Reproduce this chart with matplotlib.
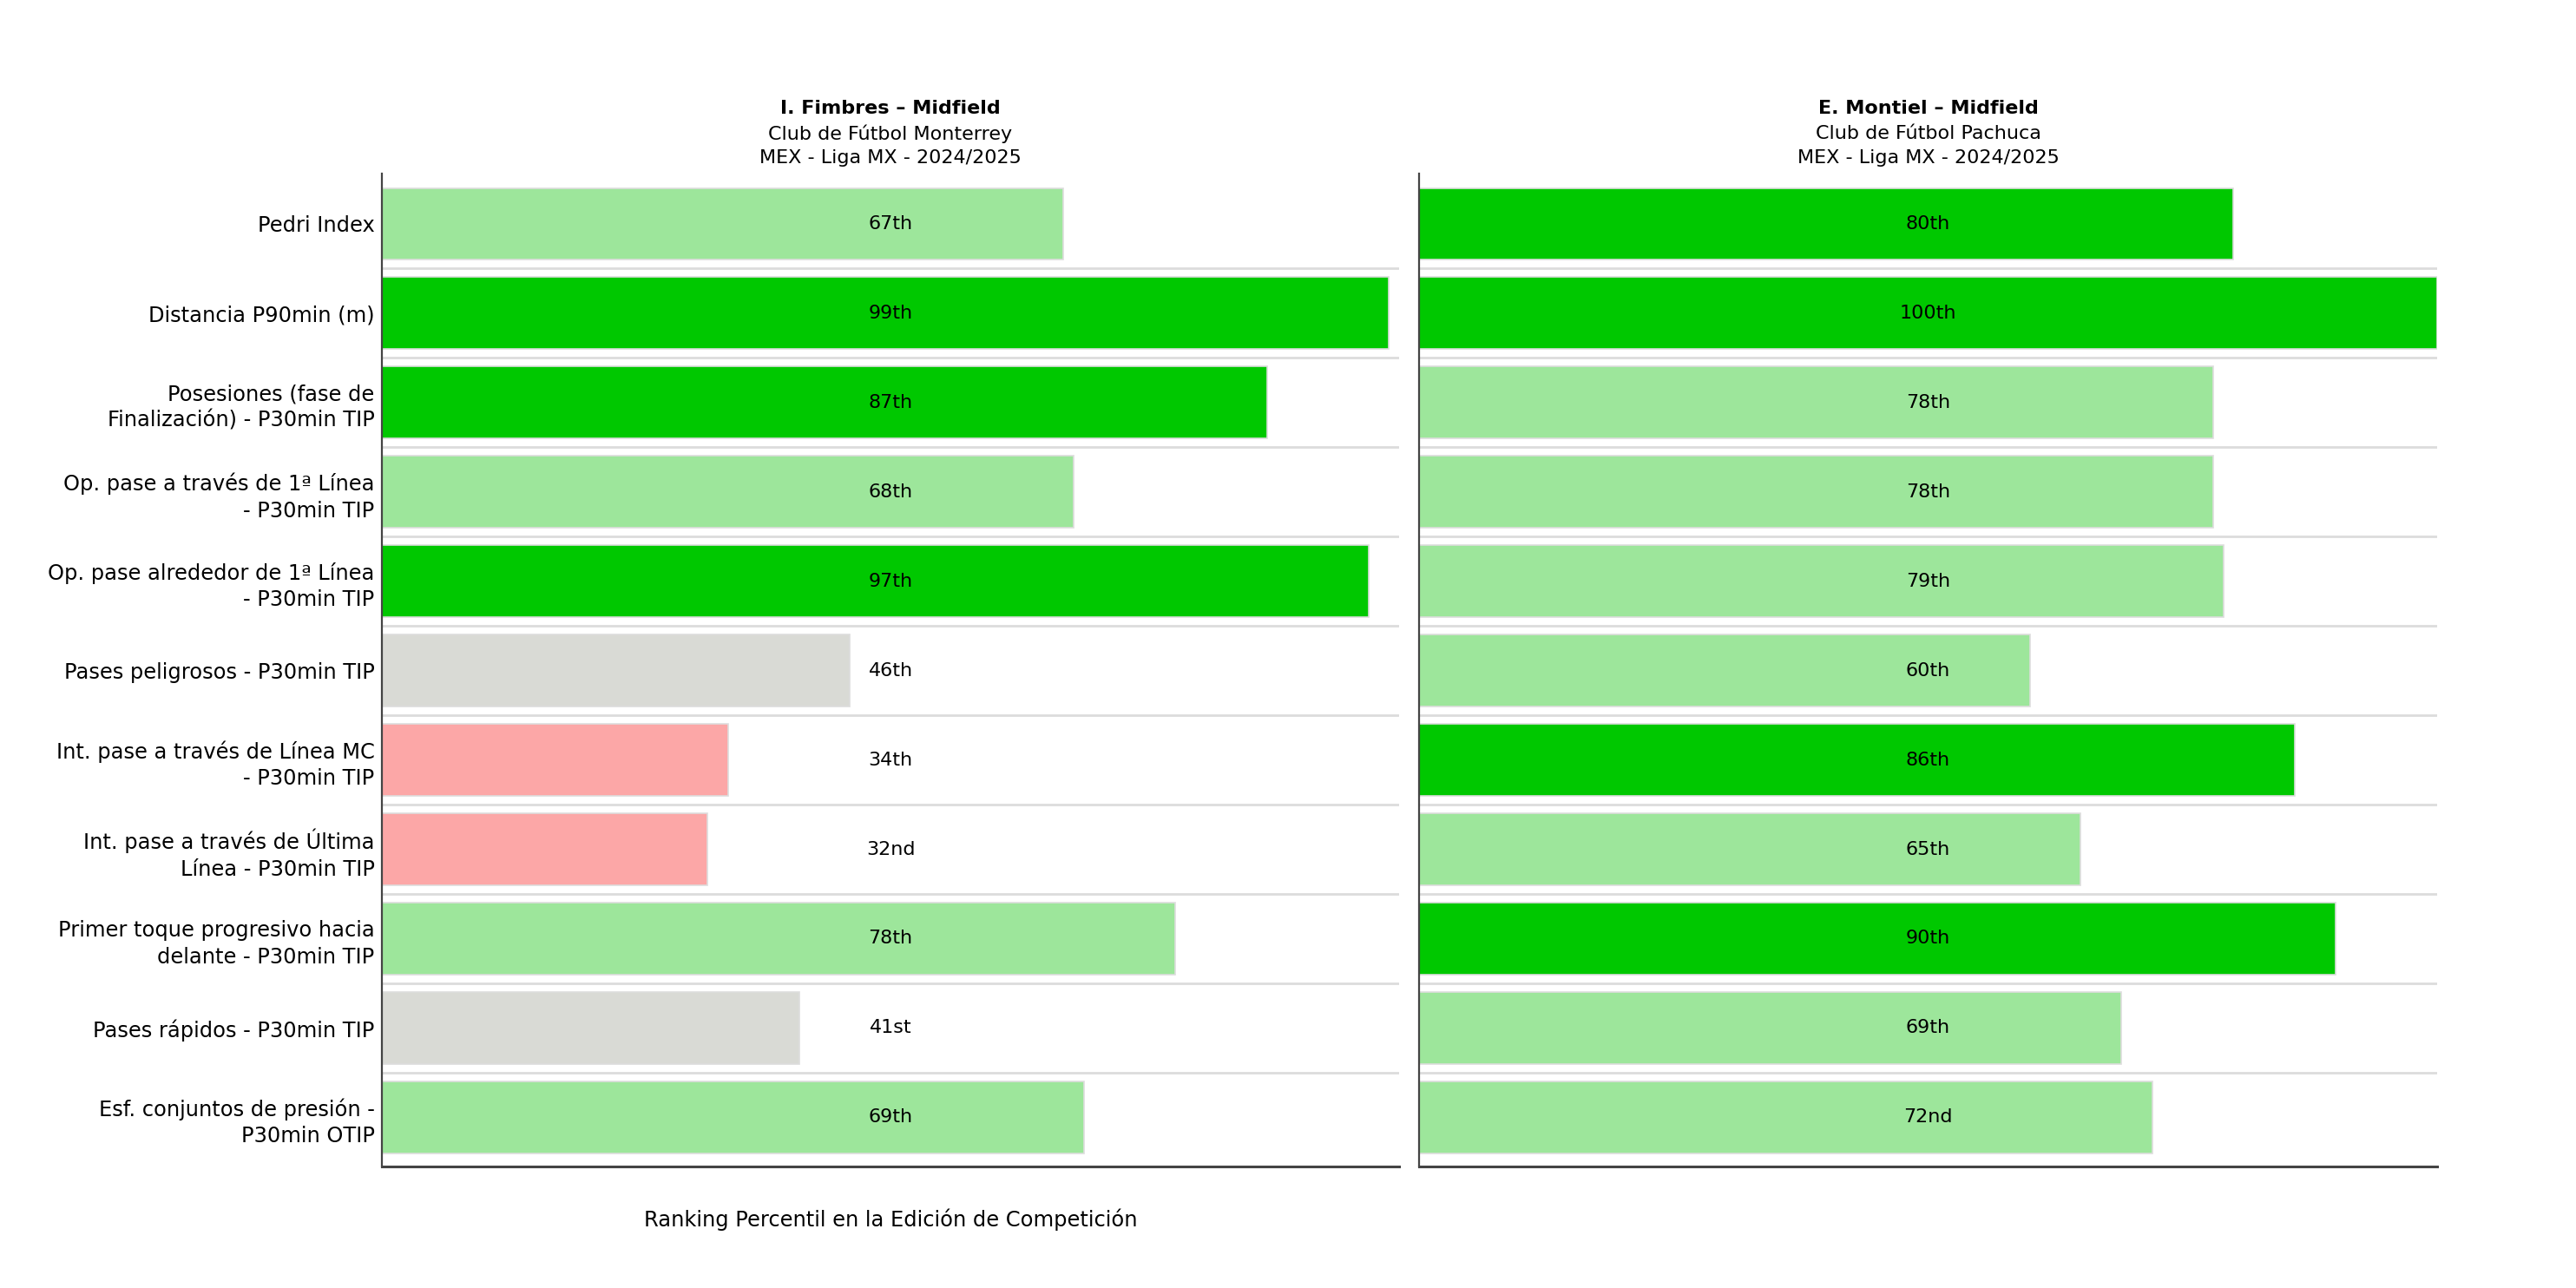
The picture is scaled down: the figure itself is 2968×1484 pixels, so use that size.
import matplotlib

matplotlib.use('agg')
import matplotlib.pyplot as plt

plt.rcParams["font.family"] = "DejaVu Sans"
plt.rcParams.update({'font.size': 8.7})

# Data
metrics = [
    "Pedri Index",
    "Distancia P90min (m)",
    "Posesiones (fase de\nFinalización) - P30min TIP",
    "Op. pase a través de 1ª Línea\n- P30min TIP",
    "Op. pase alrededor de 1ª Línea\n- P30min TIP",
    "Pases peligrosos - P30min TIP",
    "Int. pase a través de Línea MC\n- P30min TIP",
    "Int. pase a través de Última\nLínea - P30min TIP",
    "Primer toque progresivo hacia\ndelante - P30min TIP",
    "Pases rápidos - P30min TIP",
    "Esf. conjuntos de presión -\nP30min OTIP",
]

fimbres_pct = [67, 99, 87, 68, 97, 46, 34, 32, 78, 41, 69]
fimbres_rank = ["67th", "99th", "87th", "68th", "97th", "46th", "34th", "32nd", "78th", "41st", "69th"]

montiel_pct = [80, 100, 78, 78, 79, 60, 86, 65, 90, 69, 72]
montiel_rank = ["80th", "100th", "78th", "78th", "79th", "60th", "86th", "65th", "90th", "69th", "72nd"]

players = ["I. Fimbres – Midfield", "E. Montiel – Midfield"]
clubs = ["Club de Fútbol Monterrey", "Club de Fútbol Pachuca"]
competition = "MEX - Liga MX - 2024/2025"
x_label = "Ranking Percentil en la Edición de Competición"


def bar_color(value):
    if value >= 80:
        return "#00c800"
    if value >= 60:
        return "#9de69b"
    if value >= 40:
        return "#d9dad5"
    return "#fca7a7"


def percentile_panel(ax, values, ranks, player, club, show_labels):
    y = list(range(len(values)))
    ax.barh(y, values, height=0.8, color=[bar_color(v) for v in values],
            edgecolor="#dddddd", linewidth=0.6, zorder=2)
    for k in range(len(values) - 1):
        ax.axhline(k + 0.5, color="#dcdcdc", linewidth=1.0, zorder=1)
    for k in range(len(values)):
        ax.text(50, k, ranks[k], ha="center", va="center", fontsize=8, zorder=3)

    ax.set_xlim(0, 100)
    ax.set_ylim(len(values) - 0.45, -0.56)
    ax.set_xticks([])
    ax.set_yticks(y)
    if show_labels:
        ax.set_yticklabels(metrics, fontsize=8.7, linespacing=1.35)
    else:
        ax.set_yticklabels([])
    ax.tick_params(axis="y", length=0, pad=3)

    for side in ["top", "right"]:
        ax.spines[side].set_visible(False)
    ax.spines["left"].set_color("#444444")
    ax.spines["left"].set_linewidth(0.8)
    ax.spines["bottom"].set_color("#444444")
    ax.spines["bottom"].set_linewidth(1.1)

    ax.annotate(player, xy=(0.5, 1.0), xycoords="axes fraction", xytext=(0, 27),
                textcoords="offset points", ha="center", va="center",
                fontweight="bold", fontsize=8)
    ax.annotate(club, xy=(0.5, 1.0), xycoords="axes fraction", xytext=(0, 16.6),
                textcoords="offset points", ha="center", va="center", fontsize=8)
    ax.annotate(competition, xy=(0.5, 1.0), xycoords="axes fraction", xytext=(0, 6.6),
                textcoords="offset points", ha="center", va="center", fontsize=8)


def plot():
    fig = plt.figure(figsize=(14.84, 7.42), dpi=200)
    ax_left = fig.add_axes([0.14825, 0.0943, 0.3949, 0.7709])
    ax_right = fig.add_axes([0.5509, 0.0943, 0.3952, 0.7709])

    percentile_panel(ax_left, fimbres_pct, fimbres_rank, players[0], clubs[0], True)
    percentile_panel(ax_right, montiel_pct, montiel_rank, players[1], clubs[1], False)

    ax_left.annotate(x_label, xy=(0.5, 0.0), xycoords="axes fraction", xytext=(0, -22),
                     textcoords="offset points", ha="center", va="center", fontsize=8.7)

    fig.savefig("out.png", dpi=200)


if __name__ == "__main__":
    plot()
